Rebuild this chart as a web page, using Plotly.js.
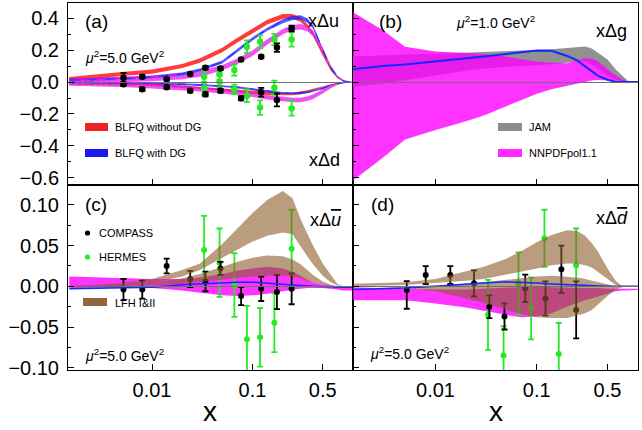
<!DOCTYPE html>
<html><head><meta charset="utf-8">
<script src="https://cdn.plot.ly/plotly-3.0.1.min.js"></script>
<style>html,body{margin:0;padding:0;background:#fff}#chart{width:642px;height:430px}</style>
</head><body><div id="chart"></div>
<script>
// ---------- shared x grid for the model bands ----------
const xGrid = [0.0015,0.003,0.005,0.01,0.02,0.03,0.05,0.07,0.1,0.14,0.2,0.25,0.3,0.35,0.4,0.5,0.6,0.7,0.8,0.9,1.0];

// ---------- panel (a): x Delta u, x Delta d ----------
const redUHi  = [0.032,0.047,0.062,0.078,0.113,0.149,0.214,0.275,0.335,0.39,0.425,0.425,0.403,0.363,0.312,0.186,0.088,0.033,0.008,0.001,0];
const redULo  = [0.008,0.022,0.037,0.052,0.087,0.121,0.186,0.245,0.305,0.36,0.395,0.395,0.377,0.337,0.288,0.164,0.072,0.023,0.004,0.0,0];
const blueUHi = [0.022,0.026,0.03,0.04,0.06,0.085,0.135,0.205,0.28,0.34,0.392,0.413,0.418,0.398,0.357,0.21,0.097,0.036,0.009,0.001,0];
const blueULo = [0.002,0.006,0.01,0.02,0.04,0.065,0.115,0.185,0.26,0.32,0.368,0.387,0.392,0.372,0.333,0.19,0.083,0.028,0.005,0.0,0];
const blueU   = [0.012,0.016,0.02,0.03,0.05,0.075,0.125,0.195,0.27,0.33,0.38,0.40,0.405,0.385,0.345,0.2,0.09,0.032,0.007,0.001,0];
const nnUHi   = [0.022,0.027,0.032,0.039,0.052,0.067,0.107,0.145,0.197,0.267,0.332,0.357,0.362,0.352,0.322,0.215,0.105,0.04,0.012,0.003,0];
const nnULo   = [-0.012,-0.007,-0.002,0.005,0.018,0.033,0.073,0.111,0.163,0.233,0.298,0.323,0.328,0.318,0.288,0.185,0.085,0.03,0.008,0.001,0];
const nnU     = [0.005,0.01,0.015,0.022,0.035,0.05,0.09,0.128,0.18,0.25,0.315,0.34,0.345,0.335,0.305,0.2,0.095,0.035,0.01,0.002,0];
const redDHi  = [0,-0.003,-0.006,-0.011,-0.022,-0.03,-0.04,-0.048,-0.058,-0.065,-0.068,-0.067,-0.06,-0.051,-0.042,-0.025,-0.011,-0.004,-0.001,0,0];
const redDLo  = [-0.016,-0.019,-0.022,-0.027,-0.038,-0.046,-0.056,-0.064,-0.074,-0.081,-0.084,-0.083,-0.076,-0.065,-0.054,-0.035,-0.019,-0.008,-0.003,0,0];
const blueDHi = [0.004,0.002,0,-0.003,-0.008,-0.012,-0.02,-0.027,-0.039,-0.052,-0.062,-0.065,-0.064,-0.059,-0.051,-0.035,-0.016,-0.006,-0.001,0,0];
const blueDLo = [-0.008,-0.01,-0.012,-0.015,-0.02,-0.024,-0.032,-0.039,-0.051,-0.064,-0.074,-0.077,-0.076,-0.071,-0.063,-0.045,-0.024,-0.012,-0.005,-0.002,0];
const blueD   = [-0.002,-0.004,-0.006,-0.009,-0.014,-0.018,-0.026,-0.033,-0.045,-0.058,-0.068,-0.071,-0.07,-0.065,-0.057,-0.04,-0.02,-0.009,-0.003,-0.001,0];
const nnDHi   = [0.004,0.001,-0.004,-0.012,-0.023,-0.031,-0.044,-0.053,-0.066,-0.081,-0.092,-0.098,-0.098,-0.091,-0.078,-0.048,-0.021,-0.006,-0.001,0,0];
const nnDLo   = [-0.024,-0.027,-0.032,-0.04,-0.051,-0.059,-0.072,-0.081,-0.094,-0.109,-0.12,-0.126,-0.126,-0.119,-0.106,-0.072,-0.039,-0.018,-0.007,-0.002,0];
const nnD     = [-0.01,-0.013,-0.018,-0.026,-0.037,-0.045,-0.058,-0.067,-0.08,-0.095,-0.106,-0.112,-0.112,-0.105,-0.092,-0.06,-0.03,-0.012,-0.004,-0.001,0];

// ---------- panel (b): x Delta g ----------
const blueG = [0.079,0.1,0.11,0.128,0.148,0.16,0.175,0.186,0.197,0.195,0.163,0.135,0.1,0.065,0.04,0.014,0.002,0,0,0,0];
const jamGLo = [-0.03,-0.01,0.01,0.04,0.07,0.085,0.095,0.1,0.105,0.11,0.12,0.13,0.13,0.11,0.085,0.04,0.015,0.004,0,0,0];
const jamGHi = [0.16,0.168,0.172,0.177,0.183,0.188,0.193,0.197,0.2,0.205,0.215,0.22,0.222,0.21,0.185,0.14,0.08,0.04,0.005,0,0];
const nnGHi = [0.44,0.325,0.22,0.19,0.182,0.175,0.158,0.145,0.128,0.12,0.118,0.135,0.148,0.145,0.13,0.08,0.04,0.015,0.003,0,0];
const nnGLo = [-0.62,-0.475,-0.36,-0.30,-0.245,-0.21,-0.152,-0.115,-0.073,-0.045,-0.022,-0.01,0.0,0.01,0.013,0.012,0.008,0.004,0.001,0,0];

// ---------- panel (c): x Delta ubar ----------
const lfhUbBigHi = [0.001,0.002,0.004,0.009,0.02,0.028,0.052,0.07,0.09,0.106,0.117,0.108,0.083,0.065,0.05,0.028,0.014,0.003,0,0,0];
const lfhUbBigLo = [0,0,0.001,0.004,0.012,0.02,0.035,0.045,0.055,0.062,0.066,0.064,0.05,0.037,0.027,0.013,0.005,0.001,0,0,0];
const lfhUbSmHi  = [0,0.001,0.002,0.004,0.01,0.015,0.024,0.03,0.035,0.038,0.037,0.033,0.027,0.02,0.014,0.006,0.002,0,0,0,0];
const lfhUbSmLo  = [0,0,0,0.001,0.003,0.005,0.008,0.01,0.012,0.013,0.013,0.012,0.01,0.007,0.005,0.002,0,0,0,0,0];
const nnUbHi = [0.012,0.011,0.01,0.009,0.009,0.011,0.015,0.019,0.022,0.024,0.022,0.018,0.013,0.008,0.005,0.002,0.001,0,-0.001,-0.001,-0.001];
const nnUbLo = [-0.002,-0.002,-0.002,-0.002,-0.005,-0.008,-0.011,-0.012,-0.011,-0.009,-0.006,-0.004,-0.003,-0.002,-0.002,-0.002,-0.003,-0.004,-0.005,-0.005,-0.005];
const blueUb = [-0.003,-0.0025,-0.002,-0.001,0.002,0.003,0.005,0.005,0.005,0.004,0.003,0.002,0.001,0.0005,0,0,-0.0005,-0.001,-0.001,-0.001,-0.001];

// ---------- panel (d): x Delta dbar ----------
const lfhDbBigHi = [0.003,0.004,0.005,0.009,0.018,0.024,0.034,0.043,0.054,0.063,0.069,0.068,0.062,0.053,0.043,0.022,0.007,0,0,0,0];
const lfhDbBigLo = [0,0.001,0.0016,0.004,0.007,0.009,0.014,0.018,0.022,0.026,0.028,0.028,0.026,0.023,0.018,0.009,0.002,0,0,0,0];
const lfhDbSmHi  = [0,0,0,0.001,0.003,0.005,0.008,0.01,0.012,0.013,0.012,0.011,0.009,0.007,0.005,0.002,0,0,0,0,0];
const lfhDbSmLo  = [0,-0.001,-0.002,-0.006,-0.015,-0.02,-0.029,-0.034,-0.038,-0.039,-0.039,-0.036,-0.033,-0.029,-0.022,-0.012,-0.004,-0.001,0,0,0];
const nnDbHi = [-0.001,-0.002,-0.003,-0.004,-0.004,-0.003,-0.001,0,0,-0.001,-0.002,-0.002,-0.002,-0.002,-0.002,-0.003,-0.003,-0.003,-0.003,-0.003,-0.003];
const nnDbLo = [-0.017,-0.017,-0.017,-0.021,-0.026,-0.03,-0.035,-0.038,-0.037,-0.033,-0.025,-0.02,-0.017,-0.014,-0.012,-0.009,-0.006,-0.005,-0.0045,-0.0045,-0.0045];
const blueDb = [-0.004,-0.003,-0.002,0,0.003,0.004,0.0055,0.005,0.004,0.003,0.002,0.0015,0.001,0.0005,0,0,0,0,0,0,0];

// ---------- data points ----------
const xCOMPASS = [0.0052,0.008,0.014,0.024,0.034,0.048,0.077,0.122,0.175,0.245];
const xHERMES  = [0.033,0.047,0.066,0.088,0.119,0.165,0.245];
const compU    = [0.027,0.033,0.018,0.05,0.089,0.085,0.141,0.158,0.215,0.335];
const compUErr = [0.03,0.01,0.008,0.008,0.01,0.01,0.008,0.008,0.026,0.018];
const compD    = [-0.014,-0.046,-0.033,-0.054,-0.077,-0.055,-0.102,-0.064,-0.112,null];
const compDErr = [0.012,0.01,0.01,0.01,0.012,0.012,0.012,0.027,0.04,null];
const hermU    = [0.033,0.05,0.075,0.22,0.252,0.266,0.266];
const hermUErr = [0.04,0.035,0.035,0.04,0.04,0.035,0.045];
const hermD    = [-0.04,0.002,-0.046,-0.086,-0.16,-0.036,-0.165];
const hermDErr = [0.04,0.035,0.03,0.04,0.045,0.045,0.045];
const compUb    = [-0.004,-0.004,0.025,0.009,0.006,0.022,-0.012,-0.003,-0.007,-0.003];
const compUbErr = [0.013,0.011,0.009,0.01,0.012,0.008,0.011,0.015,0.021,0.019];
const hermUb    = [0.0445,0.029,0.0016,-0.065,-0.0626,-0.0447,0.046];
const hermUbErr = [0.042,0.042,0.039,0.041,0.036,0.036,0.048];
const compDb      = [-0.0045,0.0139,0.0139,0.0037,-0.025,-0.037,-0.0025,-0.015,0.021,-0.029];
const compDbErrUp = [0.011,0.011,0.011,0.016,0.014,0.016,0.017,0.021,0.029,0.035];
const compDbErrDn = [0.023,0.011,0.011,0.016,0.014,0.016,0.017,0.021,0.029,0.035];
const hermDb    = [-0.035,-0.085,0.0037,-0.027,0.059,-0.083,0.026];
const hermDbErr = [0.043,0.036,0.038,0.038,0.035,0.038,0.045];

// tick labels
const xTickVals = [0.01,0.1,0.5];
const xTickText = ['0.01','0.1','0.5'];
const xTickValsR = [0.01,0.1,0.5,1];
const xTickTextR = ['0.01','0.1','0.5','1'];
const yTickA = [-0.6,-0.4,-0.2,0,0.2,0.4];
const yTickC = [-0.1,-0.05,0,0.05,0.1];

// ---------- helpers ----------
const W = 642, H = 430;
const PX = v => v / W, PY = v => 1 - v / H;
function band(xs, lo, hi, color, xa, ya) {
  return {x: xs.concat(xs.slice().reverse()), y: hi.concat(lo.slice().reverse()),
    type:'scatter', mode:'lines', fill:'toself', fillcolor:color, line:{width:0},
    hoverinfo:'skip', showlegend:false, xaxis:xa, yaxis:ya};
}
function curve(xs, ys, color, width, dash, xa, ya) {
  return {x:xs, y:ys, type:'scatter', mode:'lines', line:{color:color, width:width, dash:dash||'solid'},
    showlegend:false, xaxis:xa, yaxis:ya, hoverinfo:'skip'};
}
function pts(xs, ys, err, color, size, xa, ya, errDn) {
  const e = {type:'data', array:err, visible:true, color:color, thickness:1.8, width:3};
  if (errDn) { e.symmetric = false; e.arrayminus = errDn; }
  return {x:xs, y:ys, type:'scatter', mode:'markers', marker:{color:color, size:size},
    error_y:e, showlegend:false, xaxis:xa, yaxis:ya, hoverinfo:'skip'};
}

const RED='rgba(255,25,25,0.85)', BLUE='rgba(20,20,255,0.72)', MAG='rgba(255,0,255,0.72)',
      MAGB='rgba(255,0,255,0.8)', GRAY='rgb(145,145,145)', BROWN='rgba(140,90,40,0.6)',
      GREEN='rgb(40,232,40)';

const data = [
  // (a)
  band(xGrid, redULo, redUHi, RED, 'x', 'y'),
  band(xGrid, redDLo, redDHi, RED, 'x', 'y'),
  band(xGrid, blueULo, blueUHi, BLUE, 'x', 'y'),
  band(xGrid, blueDLo, blueDHi, BLUE, 'x', 'y'),
  band(xGrid, nnULo, nnUHi, MAG, 'x', 'y'),
  band(xGrid, nnDLo, nnDHi, MAG, 'x', 'y'),
  curve(xGrid, nnU, 'rgba(110,170,110,0.9)', 1, 'dot', 'x', 'y'),
  curve(xGrid, nnD, 'rgba(110,170,110,0.9)', 1, 'dot', 'x', 'y'),
  curve(xGrid, blueU, 'rgb(40,60,255)', 1.4, 'dash', 'x', 'y'),
  curve(xGrid, blueD, 'rgb(40,60,255)', 1.4, 'dash', 'x', 'y'),
  pts(xHERMES, hermU, hermUErr, GREEN, 6.5, 'x', 'y'),
  pts(xHERMES, hermD, hermDErr, GREEN, 6.5, 'x', 'y'),
  pts(xCOMPASS, compU, compUErr, 'black', 6.5, 'x', 'y'),
  pts(xCOMPASS, compD, compDErr, 'black', 6.5, 'x', 'y'),
  // (b)
  band(xGrid, jamGLo, jamGHi, GRAY, 'x2', 'y2'),
  band(xGrid, nnGLo, nnGHi, MAGB, 'x2', 'y2'),
  curve(xGrid, blueG, 'rgb(20,40,255)', 2, 'solid', 'x2', 'y2'),
  // (c)
  band(xGrid, nnUbLo, nnUbHi, MAGB, 'x3', 'y3'),
  pts(xHERMES, hermUb, hermUbErr, GREEN, 6, 'x3', 'y3'),
  pts(xCOMPASS, compUb, compUbErr, 'black', 6, 'x3', 'y3'),
  band(xGrid, lfhUbBigLo, lfhUbBigHi, BROWN, 'x3', 'y3'),
  band(xGrid, lfhUbSmLo, lfhUbSmHi, BROWN, 'x3', 'y3'),
  curve(xGrid, blueUb, 'rgb(20,40,255)', 1.5, 'solid', 'x3', 'y3'),
  // (d)
  band(xGrid, nnDbLo, nnDbHi, MAGB, 'x4', 'y4'),
  pts(xHERMES, hermDb, hermDbErr, GREEN, 6, 'x4', 'y4'),
  pts(xCOMPASS, compDb, compDbErrUp, 'black', 6, 'x4', 'y4', compDbErrDn),
  band(xGrid, lfhDbBigLo, lfhDbBigHi, BROWN, 'x4', 'y4'),
  band(xGrid, lfhDbSmLo, lfhDbSmHi, BROWN, 'x4', 'y4'),
  curve(xGrid, blueDb, 'rgb(20,40,255)', 1.5, 'solid', 'x4', 'y4'),
];

const FONT = 'Liberation Sans, Arial, sans-serif';
const domL = [68/W, 353/W], domR = [353/W, 638/W];
const domT = [1-185/H, 1-3/H], domB = [1-370/H, 1-185/H];
function xax(dom, range, anchor, vals, text, labels) {
  return {domain:dom, type:'log', range:range, anchor:anchor, showline:true, mirror:true,
    linecolor:'black', linewidth:1, ticks:'inside', ticklen:6, tickcolor:'black',
    tickvals:vals, ticktext:text, showticklabels:labels, showgrid:false, zeroline:false,
    ticklabelstandoff:2, tickfont:{family:FONT, size:20, color:'black'}};
}
function yax(dom, range, anchor, vals, fmt, labels, minorStep) {
  return {domain:dom, range:range, anchor:anchor, showline:true, mirror:true,
    linecolor:'black', linewidth:1, ticks:'inside', ticklen:6, tickcolor:'black',
    tickvals:vals, tickformat:fmt, showticklabels:labels, showgrid:false,
    zeroline:true, zerolinecolor:'#707070', zerolinewidth:1, zerolinelayer:'above traces',
    minor:{ticks:'inside', ticklen:3, dtick:minorStep, tickcolor:'black', showgrid:false},
    ticklabelstandoff:4, tickfont:{family:FONT, size:20, color:'black'}};
}

function txt(x, y, s, size, anchor) {
  return {xref:'paper', yref:'paper', x:PX(x), y:PY(y), text:s, showarrow:false,
    xanchor:anchor||'left', yanchor:'middle', font:{family:FONT, size:size, color:'black'}};
}
function box(x0, y0, x1, y1, color) {
  return {type:'rect', xref:'paper', yref:'paper', x0:PX(x0), x1:PX(x1), y0:PY(y1), y1:PY(y0),
    fillcolor:color, line:{width:0}};
}
function dot(x, y, r, color) {
  return {type:'circle', xref:'paper', yref:'paper', x0:PX(x-r), x1:PX(x+r), y0:PY(y+r), y1:PY(y-r),
    fillcolor:color, line:{width:0}};
}
const mu5 = '<i>μ</i><sup>2</sup>=5.0 GeV<sup>2</sup>';
const mu1 = '<i>μ</i><sup>2</sup>=1.0 GeV<sup>2</sup>';

const layout = {
  width:W, height:H, margin:{l:0, r:0, t:0, b:0}, paper_bgcolor:'white', plot_bgcolor:'white',
  showlegend:false, font:{family:FONT, color:'black'},
  xaxis: xax(domL, [-2.836, 0], 'y', xTickVals, xTickText, false),
  xaxis2: xax(domR, [-2.815, 0], 'y2', xTickValsR, xTickTextR, false),
  xaxis3: xax(domL, [-2.836, 0], 'y3', xTickVals, xTickText, true),
  xaxis4: xax(domR, [-2.815, 0], 'y4', xTickValsR, xTickTextR, true),
  yaxis: yax(domT, [-0.644, 0.494], 'x', yTickA, '.1f', true, 0.1),
  yaxis2: yax(domT, [-0.644, 0.494], 'x2', yTickA, '.1f', false, 0.1),
  yaxis3: yax(domB, [-0.1027, 0.1244], 'x3', yTickC, '.2f', true, 0.025),
  yaxis4: yax(domB, [-0.1027, 0.1244], 'x4', yTickC, '.2f', false, 0.025),
  shapes: [
    box(85, 123, 108, 131, 'rgb(238,34,34)'),
    box(85, 149, 108, 157, 'rgb(25,25,240)'),
    box(498, 123, 522, 131, 'rgb(140,140,140)'),
    box(498, 149, 522, 157, 'rgb(255,40,255)'),
    box(83, 298, 107, 306, 'rgb(150,100,60)'),
    dot(87.5, 233, 2.6, 'black'),
    dot(87.5, 257, 2.6, GREEN),
  ],
  annotations: [
    txt(83, 22, '(a)', 19), txt(306, 21, 'xΔu', 18), txt(307, 160, 'xΔd', 18),
    txt(83, 57, mu5, 14),
    txt(113, 127, 'BLFQ without DG', 11), txt(113, 153, 'BLFQ with DG', 11),
    txt(377, 22, '(b)', 19), txt(454, 22, mu1, 14), txt(594, 31, 'xΔg', 18),
    txt(527, 127, 'JAM', 11), txt(527, 153, 'NNPDFpol1.1', 11),
    txt(83, 205, '(c)', 19), txt(308, 220, 'xΔ<i><span style="text-decoration:overline">u</span></i>', 18),
    txt(97, 233, 'COMPASS', 11), txt(97, 257, 'HERMES', 11), txt(113, 303, 'LFH I&amp;II', 11),
    txt(83, 355, mu5, 14),
    txt(369, 205, '(d)', 19), txt(594, 218, 'xΔ<i><span style="text-decoration:overline">d</span></i>', 18),
    txt(368, 353, mu5, 14),
    txt(210, 411, 'x', 28, 'center'), txt(496, 411, 'x', 28, 'center'),
  ],
};

Plotly.newPlot('chart', data, layout, {staticPlot:true, displayModeBar:false});
</script>
</body></html>
